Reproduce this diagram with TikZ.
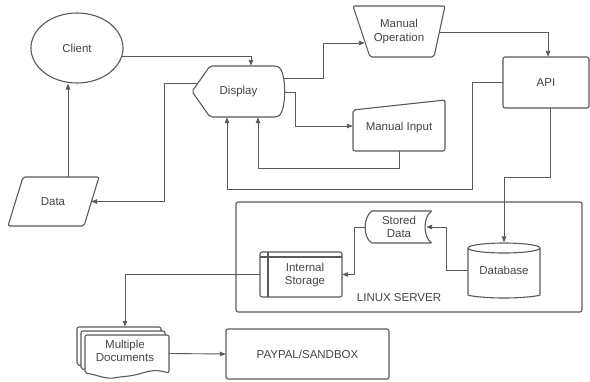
\documentclass[tikz,border=0pt]{standalone}
\usepackage{fontspec}
\setmainfont{Liberation Sans}
\usetikzlibrary{arrows.meta,calc,shapes.geometric}
\definecolor{ln}{HTML}{5A5A5A}
\definecolor{tx}{HTML}{454545}
\tikzset{
  shp/.style={draw=ln, line width=1.1pt, rounded corners=2pt, fill=white},
  lbl/.style={text=tx, font=\fontsize{11.5}{13.5}\selectfont, align=center, inner sep=0pt},
  arr/.style={draw=ln, line width=0.9pt, -{Triangle[length=6pt,width=4.5pt]}},
}
\begin{document}
\begin{tikzpicture}[x=1pt,y=-1pt]
\useasboundingbox[fill=white] (0,0) rectangle (590,381);

% Client
\node[draw=ln, line width=1.1pt, ellipse, minimum width=92pt, minimum height=70pt, lbl, text=tx] (client) at (77,48) {Client};

% Display
\draw[shp] (192,91.5) -- (210,66) -- (276,66) .. controls (287,70) and (287,113) .. (276,117) -- (210,117) -- cycle;
\node[lbl, minimum width=93pt, minimum height=51pt] (disp) at (238.5,91.5) {Display};

% Manual Operation
\draw[shp] (353,6) -- (445,6) -- (434,57) -- (370,57) -- cycle;
\node[lbl, minimum width=92pt, minimum height=51pt] (manop) at (399,31.5) {Manual\\Operation};

% Manual Input
\draw[shp] (353,110) -- (445,100) -- (445,151) -- (353,151) -- cycle;
\node[lbl, minimum width=92pt, minimum height=46pt] (manin) at (399,128) {Manual Input};

% API
\draw[shp] (503,57) rectangle (589,108);
\node[lbl, minimum width=86pt, minimum height=51pt] (api) at (546,82.5) {API};

% Data
\draw[shp] (23,177) -- (99,177) -- (84,226) -- (8,226) -- cycle;
\node[lbl, minimum width=76pt, minimum height=49pt] (data) at (53,201.5) {Data};

% Linux server
\draw[shp] (236,202) rectangle (582,312);
\node[lbl] (server) at (399,298) {LINUX SERVER};

% Database
\draw[shp] (468,248) -- (468,293) arc[start angle=180, end angle=360, x radius=36pt, y radius=5pt] -- (540,248);
\draw[shp] (504,248) ellipse[x radius=36pt, y radius=5pt];
\node[lbl, minimum width=72pt, minimum height=55pt] (db) at (504,270.5) {Database};

% Stored Data
\draw[shp, rounded corners=1pt] (372,211) -- (432,211) .. controls (423,217) and (423,237) .. (432,243) -- (372,243) .. controls (363,237) and (363,217) .. (372,211);
\node[lbl, minimum width=66pt, minimum height=32pt] (stored) at (399,227) {Stored\\Data};

% Internal Storage
\draw[shp] (260,252) rectangle (342,297);
\draw[draw=ln, line width=1.1pt] (268,252) -- (268,297) (260,257) -- (342,257);
\node[lbl, minimum width=82pt, minimum height=45pt] (intstor) at (301,274.5) {};
\node[lbl] (intstorlbl) at (305,275) {Internal\\Storage};

% Multiple Documents
\foreach \d in {0,4,8}{
  \draw[shp] ($(77,327)+(\d,\d)$) -- ++(84,0) -- ++(0,38)
     .. controls ++(-22,-6) and ++(28,-2) .. ++(-50,4)
     .. controls ++(-14,3) and ++(14,2) .. ++(-34,-4) -- cycle;
}
\node[lbl, minimum width=92pt, minimum height=53pt] (multi) at (123,353.5) {};
\node[lbl] (multilbl) at (125,351) {Multiple\\Documents};

% PAYPAL/SANDBOX
\draw[shp] (226,329) rectangle (389,379);
\node[lbl, minimum width=163pt, minimum height=50pt] (paypal) at (307.5,354) {PAYPAL/SANDBOX};

% Connectors
\draw[arr] (client.-11.5) -| ($(disp.north)+(12.5,0)$);
\draw[arr] ($(data.north)+(15,0)$) -- ($(client.south)+(-9,0)$);
\draw[arr] ($(disp.west)+(6,-8.5)$) -- ++(-33,0) |- (data.east);
\draw[arr] ($(disp.east)+(-1.5,-13.5)$) -- ++(39.5,0) |- ($(manop.west)+(12,11.5)$);
\draw[arr] ($(disp.east)+(0,0.5)$) -- ++(10,0) |- ($(manin.west)+(0,-2)$);
\draw[arr] (manin.south) -- ++(0,17) -| ($(disp.south)+(19.5,0)$);
\draw[arr] (api.west) -- ++(-30,0) -- ++(0,106.5) -| ($(disp.south)+(-11.5,0)$);
\draw[arr] ($(manop.east)+(-5.5,0.5)$) -| ($(api.north)+(2,0)$);
\draw[arr] ($(api.south)+(4,0)$) -- ++(0,69) -| ($(db.north)+(0,-0.5)$);
\draw[arr] (db.west) -- ++(-21,0) |- ($(stored.east)+(-6,0)$);
\draw[arr] (stored.west) -- ++(-11,0) |- (intstor.east);
\draw[arr] (intstor.west) -| ($(multi.north)+(2,0)$);
\draw[arr] (multi.east) -- (paypal.west);
\end{tikzpicture}
\end{document}
